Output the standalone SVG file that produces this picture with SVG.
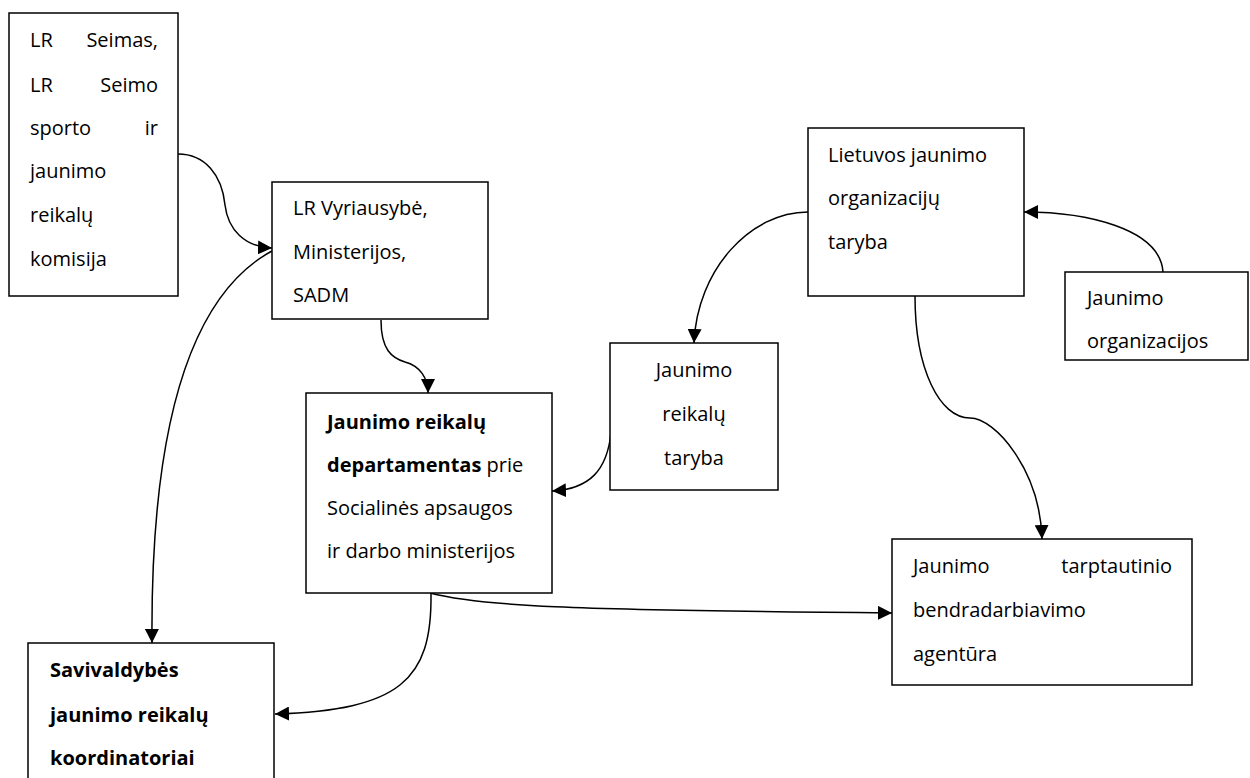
<svg xmlns="http://www.w3.org/2000/svg" width="1250" height="778" viewBox="0 0 1250 778">
<defs>
<marker id="arr" markerUnits="userSpaceOnUse" markerWidth="15" markerHeight="14" refX="14" refY="7" orient="auto">
<path d="M0,0 L14,7 L0,14 z" fill="#000"/>
</marker>
<style>
rect{fill:#fff;stroke:#000;stroke-width:1.5}
text{font-family:"Open Sans","Noto Sans",sans-serif;font-size:20px;fill:#000}
.b{font-weight:bold}
.e{text-anchor:end}
.m{text-anchor:middle}
#connectors path{fill:none;stroke:#000;stroke-width:1.5;marker-end:url(#arr)}
</style>
</defs>
<rect x="0" y="0" width="1250" height="778" style="fill:#fff;stroke:none"/>
<g id="connectors">
<path d="M178,154 C205,154 222,175 225,205 C228,230 245,247 272,248"/>
<path d="M272,251 C200,290 150,400 152,643"/>
<path d="M381,320 C381,350 392,358 405,362 C420,366 428,378 428,393"/>
<path d="M611,433 C607,470 590,489 552,491"/>
<path d="M808,212 C750,212 697,270 694,343"/>
<path d="M1163,272 C1160,228 1085,212 1024,212"/>
<path d="M915,296 C915,370 940,418 970,418 C995,418 1040,470 1042,539"/>
<path d="M430,593 C480,606 560,610 892,613"/>
<path d="M431,594 C432,680 400,710 275,714"/>
</g>
<g id="seimas">
<rect x="9" y="13" width="169" height="283"/>
<text x="30" y="47">LR</text><text x="158" y="47" class="e">Seimas,</text>
<text x="30" y="92">LR</text><text x="158" y="92" class="e">Seimo</text>
<text x="30" y="135">sporto</text><text x="158" y="135" class="e">ir</text>
<text x="30" y="178">jaunimo</text>
<text x="30" y="222">reikalų</text>
<text x="30" y="266">komisija</text>
</g>
<g id="vyriausybe">
<rect x="272" y="182" width="216" height="137"/>
<text x="293" y="215">LR Vyriausybė,</text>
<text x="293" y="259">Ministerijos,</text>
<text x="293" y="302">SADM</text>
</g>
<g id="departamentas">
<rect x="306" y="393" width="246" height="200"/>
<text x="327" y="429" class="b">Jaunimo reikalų</text>
<text x="327" y="472"><tspan class="b">departamentas</tspan> prie</text>
<text x="327" y="515">Socialinės apsaugos</text>
<text x="327" y="558">ir darbo ministerijos</text>
</g>
<g id="taryba">
<rect x="610" y="343" width="168" height="147"/>
<text x="694" y="377" class="m">Jaunimo</text>
<text x="694" y="421" class="m">reikalų</text>
<text x="694" y="465" class="m">taryba</text>
</g>
<g id="ljot">
<rect x="808" y="128" width="216" height="168"/>
<text x="828" y="162">Lietuvos jaunimo</text>
<text x="828" y="205">organizacijų</text>
<text x="828" y="249">taryba</text>
</g>
<g id="organizacijos">
<rect x="1065" y="272" width="183" height="88"/>
<text x="1087" y="305">Jaunimo</text>
<text x="1087" y="348">organizacijos</text>
</g>
<g id="agentura">
<rect x="892" y="539" width="300" height="146"/>
<text x="913" y="573">Jaunimo</text><text x="1172" y="573" class="e">tarptautinio</text>
<text x="913" y="617">bendradarbiavimo</text>
<text x="913" y="661">agentūra</text>
</g>
<g id="savivaldybes">
<rect x="28" y="643" width="246" height="150"/>
<text x="50" y="677" class="b">Savivaldybės</text>
<text x="50" y="722" class="b">jaunimo reikalų</text>
<text x="50" y="765" class="b">koordinatoriai</text>
</g>
</svg>
